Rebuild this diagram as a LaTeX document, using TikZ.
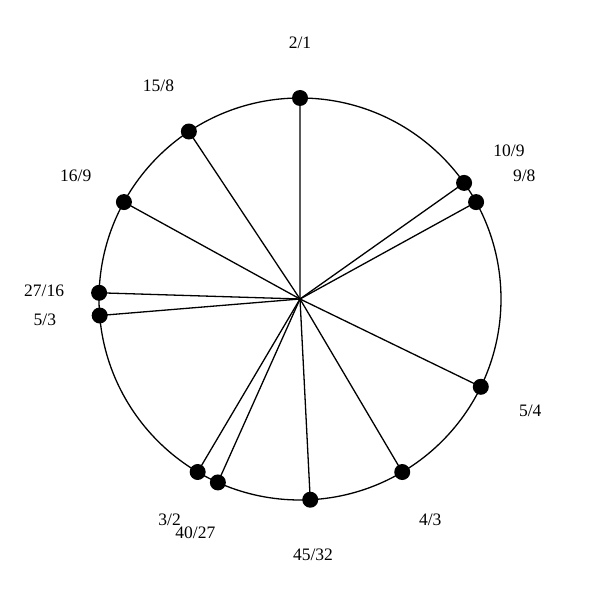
\documentclass[tikz,border=0pt]{standalone}
\usepackage{fontspec}
\setmainfont{Liberation Serif}
\usetikzlibrary{calc}
\begin{document}
\begin{tikzpicture}[x=1pt,y=1pt,
  ring/.style={line width=1.3pt},
  spoke/.style={line width=1.3pt},
  dot/.style={circle,fill=black,inner sep=0pt,minimum size=16pt},
  lbl/.style={font=\fontsize{17.5}{20}\selectfont,inner sep=0pt}]
\useasboundingbox (0,0) rectangle (600,600);
\coordinate (c) at (300,301);
\draw[ring] (c) circle (201);
\foreach \n/\d/\nm in {2/1/a,10/9/b,9/8/c2,5/4/d,4/3/e,45/32/f,40/27/g,3/2/h,5/3/i,27/16/j,16/9/k,15/8/l}{
  \pgfmathsetmacro{\ang}{90-360*ln(\n/\d)/ln(2)}
  \node[dot] (p\nm) at ($(c)+(\ang:201)$) {};
  \draw[spoke] (c) -- (p\nm.center);
  \node[lbl] (t\nm) at ($(c)+(\ang:256)$) {\n/\d};
}
\end{tikzpicture}
\end{document}
